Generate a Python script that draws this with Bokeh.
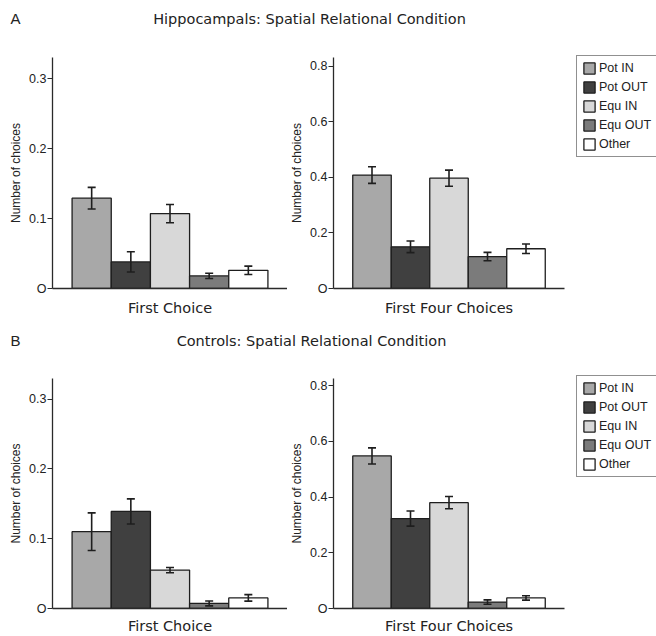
from bokeh.plotting import figure
from bokeh.models import (Range1d, FactorRange, ColumnDataSource, Whisker, Legend,
                          LegendItem, FixedTicker, Label, TeeHead, LinearAxis)
from bokeh.layouts import column, row
from bokeh.embed import file_html
from bokeh.resources import INLINE

# ---- data ----
categories = ["Pot IN", "Pot OUT", "Equ IN", "Equ OUT", "Other"]
bar_colors = ["#a8a8a8", "#404040", "#d8d8d8", "#7b7b7b", "#ffffff"]

hip_first = [0.129, 0.038, 0.107, 0.018, 0.026]
hip_first_err = [0.0155, 0.0145, 0.013, 0.0037, 0.006]
hip_four = [0.408, 0.150, 0.397, 0.115, 0.143]
hip_four_err = [0.030, 0.021, 0.029, 0.015, 0.017]

ctl_first = [0.110, 0.139, 0.055, 0.0072, 0.0152]
ctl_first_err = [0.027, 0.018, 0.0037, 0.0035, 0.0047]
ctl_four = [0.548, 0.323, 0.380, 0.023, 0.038]
ctl_four_err = [0.029, 0.027, 0.022, 0.008, 0.008]

first_ticks = [0, 0.1, 0.2, 0.3]
four_ticks = [0, 0.2, 0.4, 0.6, 0.8]

title_a = "Hippocampals: Spatial Relational Condition"
title_b = "Controls: Spatial Relational Condition"
xlabel_first = "First Choice"
xlabel_four = "First Four Choices"
ylabel = "Number of choices"

TICK_FONT = "Liberation Sans"
TITLE_FONT = "DejaVu Sans"
INK = "#222222"


def header(letter, title, h, yc, title_x):
    p = figure(width=656, height=h, x_range=Range1d(0, 656), y_range=Range1d(0, h),
               min_border=0, output_backend="svg", toolbar_location=None,
               x_axis_location=None, y_axis_location=None, outline_line_color=None)
    p.grid.visible = False
    p.add_layout(Label(x=10, y=yc, text=letter, text_font=TICK_FONT, text_font_size="15px",
                       text_baseline="middle", text_color=INK))
    p.add_layout(Label(x=title_x, y=yc, text=title, text_font=TITLE_FONT, text_font_size="14.5px",
                       text_baseline="middle", text_align="center", text_color=INK))
    return p


def panel(vals, errs, ymax, ticks, xlabel, fw, fh, bl, br, bt, bb, xstand, legend_loc=None):
    src = ColumnDataSource(dict(
        cat=categories, val=vals,
        up=[v + e for v, e in zip(vals, errs)],
        lo=[v - e for v, e in zip(vals, errs)],
        color=bar_colors))
    p = figure(x_range=FactorRange(factors=categories, range_padding=0.2),
               y_range=Range1d(0, ymax), frame_width=fw, frame_height=fh,
               min_border_left=bl, min_border_right=br, min_border_top=bt, min_border_bottom=bb,
               x_axis_type=None,
               output_backend="svg", toolbar_location=None, outline_line_color=None,
               background_fill_color="white", border_fill_color="white")
    p.grid.visible = False
    r = p.vbar(x="cat", top="val", width=1.0, source=src, fill_color="color",
               line_color="#1e1e1e", line_width=1.3)
    w = Whisker(base="cat", upper="up", lower="lo", source=src, level="overlay",
                line_color="#1e1e1e", line_width=1.6,
                upper_head=TeeHead(size=8, line_color="#1e1e1e", line_width=1.6),
                lower_head=TeeHead(size=8, line_color="#1e1e1e", line_width=1.6))
    p.add_layout(w)

    ya = p.yaxis[0]
    ya.ticker = FixedTicker(ticks=ticks)
    ya.major_label_overrides = {0: "O"}
    ya.minor_tick_line_color = None
    ya.major_tick_in = 0
    ya.major_tick_out = 5
    ya.major_label_standoff = 1
    ya.axis_line_color = "#2a2a2a"
    ya.axis_line_width = 1.3
    ya.major_tick_line_color = "#2a2a2a"
    ya.major_tick_line_width = 1.2
    ya.major_label_text_font = TICK_FONT
    ya.major_label_text_font_size = "12.5px"
    ya.major_label_text_color = INK
    ya.axis_label = ylabel
    ya.axis_label_text_font = TICK_FONT
    ya.axis_label_text_font_size = "12px"
    ya.axis_label_text_font_style = "normal"
    ya.axis_label_text_color = INK
    ya.axis_label_standoff = 3

    xa = LinearAxis(ticker=FixedTicker(ticks=[]))
    xa.major_tick_line_color = None
    xa.minor_tick_line_color = None
    xa.major_tick_out = 0
    xa.major_tick_in = 0
    xa.major_label_standoff = 0
    xa.axis_line_color = "#2a2a2a"
    xa.axis_line_width = 1.3
    xa.axis_label = xlabel
    xa.axis_label_text_font = TITLE_FONT
    xa.axis_label_text_font_size = "14.5px"
    xa.axis_label_text_font_style = "normal"
    xa.axis_label_text_color = INK
    xa.axis_label_standoff = xstand
    p.add_layout(xa, "below")

    if legend_loc is not None:
        items = [LegendItem(label=c, renderers=[r], index=i) for i, c in enumerate(categories)]
        leg = Legend(items=items, location=legend_loc, orientation="vertical",
                     border_line_color=INK, border_line_width=1,
                     background_fill_color="white", background_fill_alpha=1.0,
                     padding=5, spacing=5, margin=6,
                     glyph_width=14, glyph_height=14, label_height=14,
                     label_standoff=3, label_text_font=TICK_FONT,
                     label_text_font_size="12.5px", label_text_color=INK,
                     label_text_baseline="middle")
        p.add_layout(leg, "right")
    return p


YMAX_FIRST_A = 0.33
YMAX_FOUR_A = 0.831
YMAX_FIRST_B = 0.3295
YMAX_FOUR_B = 0.826

head_a = header("A", title_a, 36, 18, 309)
a1 = panel(hip_first, hip_first_err, YMAX_FIRST_A, first_ticks, xlabel_first,
           235, 231, 52, 0, 21, 32, 11)
a2 = panel(hip_four, hip_four_err, YMAX_FOUR_A, four_ticks, xlabel_four,
           231, 231, 45, 93, 21, 32, 11, legend_loc=(12, 131))
head_b = header("B", title_b, 38, 18, 311)
b1 = panel(ctl_first, ctl_first_err, YMAX_FIRST_B, first_ticks, xlabel_first,
           235, 230, 52, 0, 20, 28, 9)
b2 = panel(ctl_four, ctl_four_err, YMAX_FOUR_B, four_ticks, xlabel_four,
           231, 230, 45, 93, 20, 28, 9, legend_loc=(12, 131))

layout = column(head_a, row(a1, a2, spacing=0), head_b, row(b1, b2, spacing=0), spacing=0)

open("out.html", "w").write(file_html(layout, INLINE))
